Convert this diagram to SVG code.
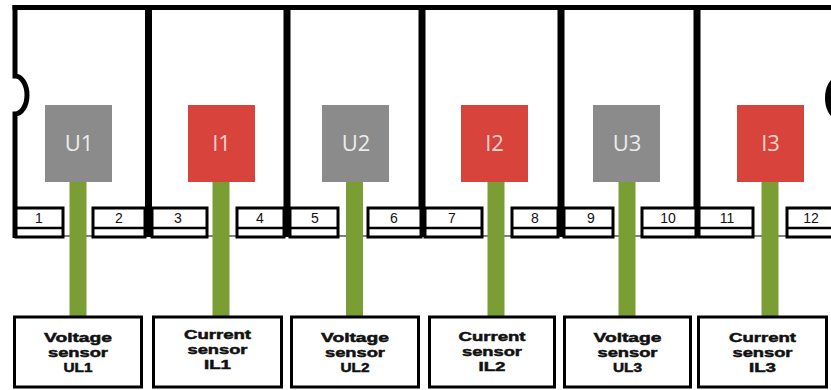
<svg xmlns="http://www.w3.org/2000/svg" width="831" height="390" viewBox="0 0 831 390">
  <style>
    .frame { fill: none; stroke: #000; stroke-linecap: butt; }
    .sep { fill: none; stroke: #000; stroke-width: 7; }
    .term { fill: #fff; stroke: #000; stroke-width: 3; }
    .termline { stroke: #000; stroke-width: 2.5; }
    .num { font-family: "Liberation Sans", Arial, sans-serif; font-size: 14px; fill: #111; text-anchor: middle; }
    .sq-u { fill: #8b8b8b; }
    .sq-i { fill: #d8433b; }
    .sqlabel { font-family: "Open Sans", "Liberation Sans", sans-serif; font-size: 22px; font-weight: 400; text-anchor: middle; }
    .lab-u { fill: #ececec; }
    .lab-i { fill: #f8d2cc; }
    .wire { fill: #7b9e34; }
    .sensor { fill: #fff; stroke: #000; stroke-width: 3; }
    .stext { font-family: "Liberation Sans", Arial, sans-serif; font-size: 13px; font-weight: bold; fill: #111; stroke: #111; stroke-width: 0.5; text-anchor: middle; }
  </style>

  <rect width="831" height="390" fill="#fff"/>

  <!-- meter housing: top rail, left wall with notch, module separators -->
  <g id="housing">
    <line x1="15" y1="236" x2="831" y2="236" stroke="#000" stroke-width="1.2"/>
    <line class="frame" x1="12.5" y1="7.5" x2="831" y2="7.5" stroke-width="5"/>
    <path class="frame" stroke-width="5" d="M15,5 V76 A12 19 0 0 1 15,114 V238"/>
    <path class="frame" stroke-width="6" d="M838,80 A10 18 0 0 0 838,116"/>
    <line class="sep" x1="148.5" y1="5" x2="148.5" y2="237"/>
    <line class="sep" x1="287" y1="5" x2="287" y2="237"/>
    <line class="sep" x1="422" y1="5" x2="422" y2="237"/>
    <line class="sep" x1="561" y1="5" x2="561" y2="237"/>
    <line class="sep" x1="697" y1="5" x2="697" y2="237"/>
  </g>

  <!-- screw terminals 1..12 -->
  <g id="terminals">
    <g id="t1"><rect class="term" x="16" y="208" width="47" height="29"/><line class="termline" x1="16" y1="228" x2="63" y2="228"/><text class="num" x="39" y="223">1</text></g>
    <g id="t2"><rect class="term" x="93" y="208" width="52" height="29"/><line class="termline" x1="93" y1="228" x2="145" y2="228"/><text class="num" x="119" y="223">2</text></g>
    <g id="t3"><rect class="term" x="152" y="208" width="55" height="29"/><line class="termline" x1="152" y1="228" x2="207" y2="228"/><text class="num" x="178" y="223">3</text></g>
    <g id="t4"><rect class="term" x="237" y="208" width="47" height="29"/><line class="termline" x1="237" y1="228" x2="284" y2="228"/><text class="num" x="260" y="223">4</text></g>
    <g id="t5"><rect class="term" x="290" y="208" width="48" height="29"/><line class="termline" x1="290" y1="228" x2="338" y2="228"/><text class="num" x="315" y="223">5</text></g>
    <g id="t6"><rect class="term" x="368" y="208" width="53" height="29"/><line class="termline" x1="368" y1="228" x2="421" y2="228"/><text class="num" x="394" y="223">6</text></g>
    <g id="t7"><rect class="term" x="425" y="208" width="57" height="29"/><line class="termline" x1="425" y1="228" x2="482" y2="228"/><text class="num" x="452" y="223">7</text></g>
    <g id="t8"><rect class="term" x="512" y="208" width="46" height="29"/><line class="termline" x1="512" y1="228" x2="558" y2="228"/><text class="num" x="535" y="223">8</text></g>
    <g id="t9"><rect class="term" x="564" y="208" width="49" height="29"/><line class="termline" x1="564" y1="228" x2="613" y2="228"/><text class="num" x="591" y="223">9</text></g>
    <g id="t10"><rect class="term" x="642" y="208" width="54" height="29"/><line class="termline" x1="642" y1="228" x2="696" y2="228"/><text class="num" x="668" y="223">10</text></g>
    <g id="t11"><rect class="term" x="699" y="208" width="54" height="29"/><line class="termline" x1="699" y1="228" x2="753" y2="228"/><text class="num" x="727" y="223">11</text></g>
    <g id="t12"><rect class="term" x="787" y="208" width="55" height="29"/><line class="termline" x1="787" y1="228" x2="842" y2="228"/><text class="num" x="811" y="223">12</text></g>
  </g>

  <!-- wiring from measurement inputs to sensors -->
  <g id="connectors">
    <rect class="wire" x="69.5" y="182" width="17" height="135"/>
    <rect class="wire" x="212.5" y="182" width="17" height="135"/>
    <rect class="wire" x="346" y="182" width="17" height="135"/>
    <rect class="wire" x="487.5" y="182" width="17" height="135"/>
    <rect class="wire" x="618.5" y="182" width="17" height="135"/>
    <rect class="wire" x="761.5" y="182" width="17" height="135"/>
  </g>

  <!-- measurement inputs -->
  <g id="U1"><rect class="sq-u" x="45" y="105" width="67" height="77"/><text class="sqlabel lab-u" x="79" y="151">U1</text></g>
  <g id="I1"><rect class="sq-i" x="188" y="105" width="67" height="77"/><text class="sqlabel lab-i" x="221.5" y="151">I1</text></g>
  <g id="U2"><rect class="sq-u" x="322" y="105" width="67" height="77"/><text class="sqlabel lab-u" x="356" y="151">U2</text></g>
  <g id="I2"><rect class="sq-i" x="461" y="105" width="67" height="77"/><text class="sqlabel lab-i" x="494.5" y="151">I2</text></g>
  <g id="U3"><rect class="sq-u" x="593" y="105" width="67" height="77"/><text class="sqlabel lab-u" x="627" y="151">U3</text></g>
  <g id="I3"><rect class="sq-i" x="737" y="105" width="67" height="77"/><text class="sqlabel lab-i" x="770.5" y="151">I3</text></g>

  <!-- sensors -->
  <g id="sensor-UL1"><rect class="sensor" x="14.5" y="317" width="127" height="70"/>
    <text class="stext" x="78" y="342" textLength="68" lengthAdjust="spacingAndGlyphs">Voltage</text>
    <text class="stext" x="78" y="357" textLength="60" lengthAdjust="spacingAndGlyphs">sensor</text>
    <text class="stext" x="78" y="372" textLength="29" lengthAdjust="spacingAndGlyphs">UL1</text></g>
  <g id="sensor-IL1"><rect class="sensor" x="153.5" y="317" width="128" height="70"/>
    <text class="stext" x="217.5" y="339" textLength="67" lengthAdjust="spacingAndGlyphs">Current</text>
    <text class="stext" x="217.5" y="354" textLength="60" lengthAdjust="spacingAndGlyphs">sensor</text>
    <text class="stext" x="217.5" y="369" textLength="27" lengthAdjust="spacingAndGlyphs">IL1</text></g>
  <g id="sensor-UL2"><rect class="sensor" x="291.5" y="317" width="127" height="70"/>
    <text class="stext" x="355" y="342" textLength="68" lengthAdjust="spacingAndGlyphs">Voltage</text>
    <text class="stext" x="355" y="357" textLength="60" lengthAdjust="spacingAndGlyphs">sensor</text>
    <text class="stext" x="355" y="372" textLength="29" lengthAdjust="spacingAndGlyphs">UL2</text></g>
  <g id="sensor-IL2"><rect class="sensor" x="429.5" y="317" width="125" height="70"/>
    <text class="stext" x="492" y="341" textLength="67" lengthAdjust="spacingAndGlyphs">Current</text>
    <text class="stext" x="492" y="356" textLength="60" lengthAdjust="spacingAndGlyphs">sensor</text>
    <text class="stext" x="492" y="371" textLength="27" lengthAdjust="spacingAndGlyphs">IL2</text></g>
  <g id="sensor-UL3"><rect class="sensor" x="564.5" y="317" width="126" height="70"/>
    <text class="stext" x="627.5" y="342" textLength="68" lengthAdjust="spacingAndGlyphs">Voltage</text>
    <text class="stext" x="627.5" y="357" textLength="60" lengthAdjust="spacingAndGlyphs">sensor</text>
    <text class="stext" x="627.5" y="372" textLength="29" lengthAdjust="spacingAndGlyphs">UL3</text></g>
  <g id="sensor-IL3"><rect class="sensor" x="698.5" y="317" width="128" height="70"/>
    <text class="stext" x="762.5" y="342" textLength="67" lengthAdjust="spacingAndGlyphs">Current</text>
    <text class="stext" x="762.5" y="357" textLength="60" lengthAdjust="spacingAndGlyphs">sensor</text>
    <text class="stext" x="762.5" y="372" textLength="27" lengthAdjust="spacingAndGlyphs">IL3</text></g>
</svg>
